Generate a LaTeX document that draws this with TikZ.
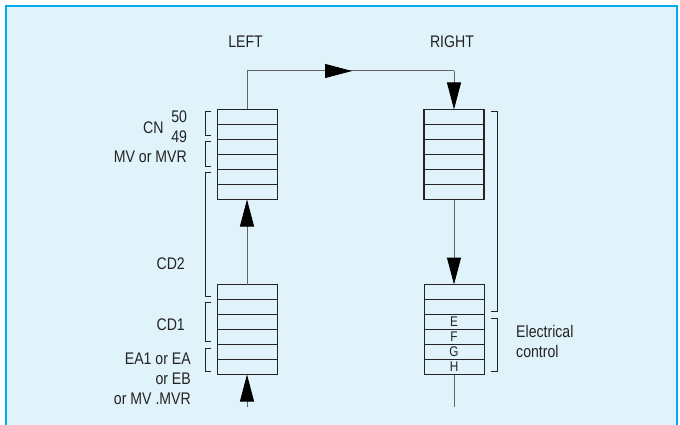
\documentclass[tikz,border=0pt]{standalone}
\usepackage{fontspec}
\setmainfont[FakeStretch=0.84]{Liberation Sans}
\usepackage{xcolor}
\usetikzlibrary{arrows.meta, positioning}

\definecolor{panelfill}{RGB}{224,242,250}
\definecolor{panelline}{RGB}{0,174,239}
\definecolor{inkgray}{RGB}{35,35,35}
\definecolor{wiregray}{RGB}{100,100,100}

\begin{document}
\begin{tikzpicture}[
  x=1pt, y=-1pt,
  font=\fontsize{16.8}{20}\selectfont, text=inkgray,
  stack/.style={draw=inkgray, line width=0.9pt, inner sep=0pt, outer sep=0pt, minimum width=60pt, minimum height=90pt},
  rowline/.style={draw=inkgray, line width=0.9pt},
  wire/.style={draw=wiregray, line width=1pt},
  arr/.style={-{Triangle[length=27pt, width=14pt, color=black]}},
  brk/.style={draw=inkgray, line width=1pt},
  lbl/.style={inner sep=0pt, align=right},
  rowlbl/.style={inner sep=0pt, font=\fontsize{14}{15}\selectfont}
]
  \useasboundingbox (0,0) rectangle (680,425);
  \clip (0,0) rectangle (680,425);
  \draw[panelline, fill=panelfill, line width=1.5pt] (6,6) rectangle (677,440);

  % headings
  \node[inner sep=0pt] (lefthd) at (245.5,42) {LEFT};
  \node[inner sep=0pt] (righthd) at (452,42) {RIGHT};

  % the four stacks
  \node[stack] (lefttop) at (247,154.5) {};
  \node[stack] (leftbot) at (247,329.5) {};
  \node[stack, line width=1.2pt] (righttop) at (454,154.5) {};
  \node[stack] (rightbot) at (454,329.5) {};
  \foreach \s in {lefttop,leftbot,rightbot}
    \foreach \i in {1,...,5}
      \draw[rowline] (\s.north west) ++(0,\i*15) -- ++(60,0);
  \foreach \i in {1,...,5}
    \draw[rowline, line width=1.3pt, draw=black!85] (righttop.north west) ++(0,\i*15) -- ++(60,0);

  \foreach \l [count=\i from 3] in {E,F,G,H}
    \node[rowlbl] (row\l) at (454,284.5+\i*15-7.5) {\l};

  % connectors
  \coordinate (rcorner) at (454,71);
  \coordinate (midtip) at (352,71);
  \coordinate (lin) at (247,407);
  \coordinate (rout) at (454,407);
  \draw[wire] (lefttop.north) |- (rcorner);
  \draw[wire, arr] (lefttop.north |- rcorner) -- (midtip);
  \draw[wire, arr] (rcorner) -- (righttop.north);
  \draw[wire, arr] (leftbot.north) -- (lefttop.south);
  \draw[wire, arr] (lin) -- (leftbot.south);
  \draw[wire, arr] (righttop.south) -- (rightbot.north);
  \draw[wire] (rightbot.south) -- (rout);

  % brackets, left
  \draw[brk] (211,112) -- (205,112) -- (205,136) -- (211,136);
  \draw[brk] (211,142) -- (205,142) -- (205,166) -- (211,166);
  \draw[brk] (211,172.5) -- (205,172.5) -- (205,296) -- (211,296);
  \draw[brk] (211,302) -- (205,302) -- (205,341) -- (211,341);
  \draw[brk] (211,348) -- (205,348) -- (205,371) -- (211,371);
  % brackets, right
  \draw[brk] (491,112) -- (497,112) -- (497,311) -- (491,311);
  \draw[brk] (491,318) -- (497,318) -- (497,371) -- (491,371);

  % labels
  \node[lbl] (cn) at (153.3,127.3) {CN};
  \node[lbl] (cn50) at (179.2,116.7) {50};
  \node[lbl] (cn49) at (179.2,136.7) {49};
  \node[lbl, anchor=east] (mv) at (187,156.7) {MV or MVR};
  \node[lbl, anchor=east] (cd2) at (185,264) {CD2};
  \node[lbl, anchor=east] (cd1) at (185,325) {CD1};
  \node[lbl, anchor=north east] (ea) at (191,352.5) {EA1 or EA\\or EB\\or MV .MVR};
  \node[lbl, align=left, anchor=north west] (elec) at (516,325.5) {Electrical\\control};
\end{tikzpicture}
\end{document}
